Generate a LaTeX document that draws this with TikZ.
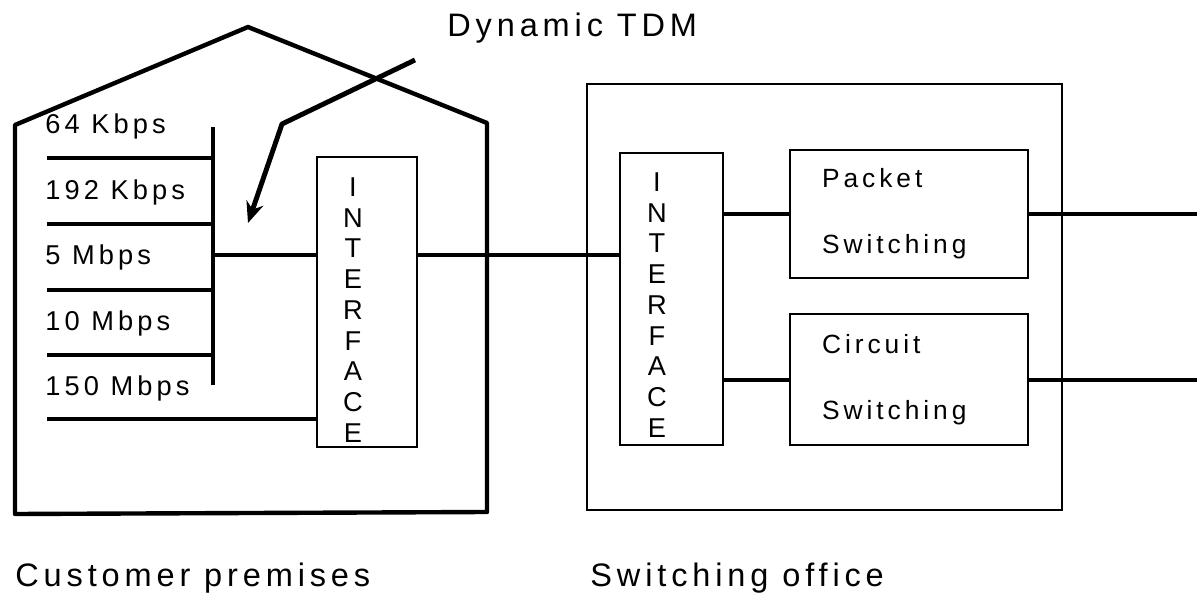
\documentclass[tikz,border=0pt]{standalone}
\usepackage{fontspec}
\setmainfont{Liberation Sans}[LetterSpace=15]
\usetikzlibrary{arrows.meta, positioning}

\begin{document}
\begin{tikzpicture}[x=0.02cm, y=-0.02cm,
          house/.style={line width=2.5pt, line join=round},
          bus/.style={line width=2.2pt},
          wire/.style={line width=2.4pt},
          ibox/.style={draw, line width=1.3pt, minimum width=2cm,
                       minimum height=5.8cm, inner sep=0pt},
          swbox/.style={draw, line width=1.3pt, text width=3.48cm, align=left,
                        inner xsep=0.64cm, minimum height=2.56cm,
                        font=\fontsize{15}{37.5}\selectfont},
          letters/.style={align=center, inner sep=0pt,
                          font=\fontsize{15.5}{17.5}\selectfont},
          lbl/.style={anchor=base west, inner sep=0pt,
                      font=\fontsize{15.5}{18}\selectfont},
          caption/.style={anchor=base west, inner sep=0pt,
                          font=\fontsize{18.5}{22}\selectfont},
          arr/.style={line width=2.8pt, line join=round,
                      -{Stealth[length=12pt, width=10pt]}}
        ]
        \useasboundingbox (0,0) rectangle (1199,597);

        % customer premises
        \draw[house] (15,514) -- (15,125) -- (248,27) -- (487,123) -- (487,512) -- cycle;
        \node[ibox] (int1) at (367,302) {};
        \node[letters] (int1txt) at (353,310) {I\\N\\T\\E\\R\\F\\A\\C\\E};

        \coordinate (bustop) at (213,127);
        \coordinate (busbot) at (213,385);
        \draw[bus] (bustop) -- (busbot);
        \foreach \y [count=\i] in {158,224,290,355} {
          \coordinate (in\i) at (47,\y);
          \draw[bus] (in\i) -- (in\i -| bustop);
        }
        \node[lbl] (r1) at (45,134) {64 Kbps};
        \node[lbl] (r2) at (45,200) {192 Kbps};
        \node[lbl] (r3) at (45,265) {5 Mbps};
        \node[lbl] (r4) at (45,331) {10 Mbps};
        \node[lbl] (r5) at (45,396) {150 Mbps};

        \coordinate (tap) at (213,255);
        \coordinate (feed) at (47,419);
        \draw[bus] (tap) -- (tap -| int1.west);
        \draw[bus] (feed) -- (feed -| int1.west);

        % switching office
        \node[draw, line width=1.4pt, minimum width=9.5cm, minimum height=8.52cm] (office) at (824.5,297) {};
        \node[ibox, minimum width=2.06cm, minimum height=5.84cm] (int2) at (671.5,299) {};
        \node[letters] (int2txt) at (657,305) {I\\N\\T\\E\\R\\F\\A\\C\\E};
        \node[swbox] (pkt) at (909,214) {Packet\\Switching};
        \node[swbox, below=0.68cm of pkt, minimum height=2.62cm] (ckt) {Circuit\\Switching};

        \coordinate (out) at (1197,0);
        \draw[wire] (int1.east |- tap) -- (int2.west |- tap);
        \draw[wire] (int2.east |- pkt.west) -- (pkt.west);
        \draw[wire] (int2.east |- ckt.west) -- (ckt.west);
        \draw[wire] (pkt.east) -- (pkt.east -| out);
        \draw[wire] (ckt.east) -- (ckt.east -| out);

        % dynamic TDM
        \coordinate (arrstart) at (415,60);
        \coordinate (arrbend) at (282,124);
        \coordinate (arrtip) at (248,223);
        \draw[arr] (arrstart) -- (arrbend) -- (arrtip);
        \node[caption] (dyn) at (447,37) {Dynamic TDM};

        \node[caption] (cust) at (15,586) {Customer premises};
        \node[caption] (swoff) at (590,586) {Switching office};
      \end{tikzpicture}
\end{document}
